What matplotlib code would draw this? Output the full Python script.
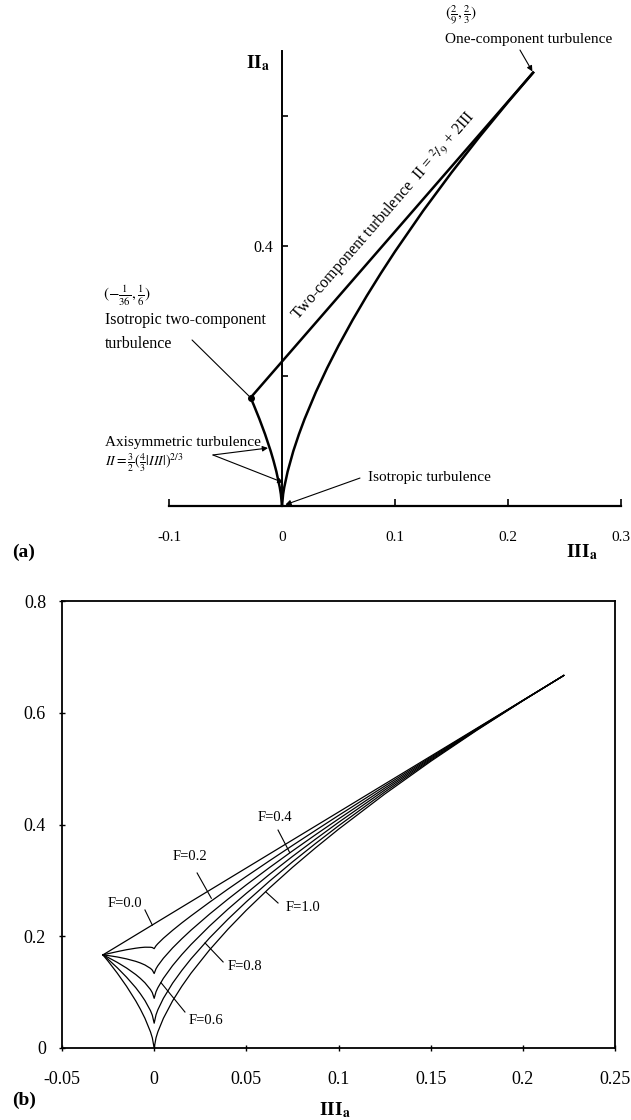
import numpy as np
import matplotlib
matplotlib.use('Agg')
from matplotlib import pyplot as plt

# invariant map points: III_a and II_a for the family of curves F=0.0 ... 1.0
iii_pts = [-0.0278, -0.025, -0.02, -0.015, -0.01, -0.0075, -0.005, -0.002, -0.001, 0.0,
           0.001, 0.002, 0.005, 0.01, 0.015, 0.02, 0.03, 0.04, 0.05, 0.0625,
           0.075, 0.0875, 0.1, 0.125, 0.15, 0.175, 0.2, 0.2222]
ii_f00 = [0.1667, 0.1722, 0.1822, 0.1922, 0.2022, 0.2072, 0.2122, 0.2182, 0.2202, 0.2222,
          0.2242, 0.2262, 0.2322, 0.2422, 0.2522, 0.2622, 0.2822, 0.3022, 0.3222, 0.3472,
          0.3722, 0.3972, 0.4222, 0.4722, 0.5222, 0.5722, 0.6222, 0.6667]
ii_f02 = [0.1667, 0.1688, 0.1725, 0.1759, 0.1786, 0.1797, 0.1804, 0.1803, 0.1798, 0.1778,
          0.1830, 0.1867, 0.1964, 0.2106, 0.2239, 0.2365, 0.2608, 0.2843, 0.3071, 0.3350,
          0.3624, 0.3894, 0.4161, 0.4686, 0.5204, 0.5715, 0.6220, 0.6667]
ii_f04 = [0.1667, 0.1655, 0.1629, 0.1595, 0.1551, 0.1522, 0.1486, 0.1425, 0.1394, 0.1333,
          0.1418, 0.1473, 0.1606, 0.1791, 0.1955, 0.2109, 0.2395, 0.2663, 0.2920, 0.3228,
          0.3526, 0.3816, 0.4099, 0.4650, 0.5185, 0.5707, 0.6219, 0.6667]
ii_f06 = [0.1667, 0.1621, 0.1532, 0.1432, 0.1315, 0.1246, 0.1167, 0.1046, 0.0990, 0.0889,
          0.1006, 0.1078, 0.1247, 0.1475, 0.1672, 0.1852, 0.2181, 0.2484, 0.2768, 0.3106,
          0.3428, 0.3737, 0.4038, 0.4615, 0.5167, 0.5700, 0.6217, 0.6667]
ii_f08 = [0.1667, 0.1588, 0.1436, 0.1268, 0.1080, 0.0971, 0.0849, 0.0668, 0.0586, 0.0444,
          0.0594, 0.0684, 0.0889, 0.1160, 0.1388, 0.1596, 0.1968, 0.2304, 0.2617, 0.2984,
          0.3330, 0.3659, 0.3976, 0.4579, 0.5148, 0.5692, 0.6216, 0.6667]
ii_f10 = [0.1667, 0.1554, 0.1339, 0.1105, 0.0844, 0.0696, 0.0531, 0.0289, 0.0182, 0.0,
          0.0182, 0.0289, 0.0531, 0.0844, 0.1105, 0.1339, 0.1754, 0.2125, 0.2466, 0.2862,
          0.3232, 0.3581, 0.3915, 0.4543, 0.5130, 0.5685, 0.6214, 0.6667]
f_curves = [ii_f00, ii_f02, ii_f04, ii_f06, ii_f08, ii_f10]

a_xticks = [-0.1, 0, 0.1, 0.2, 0.3]
a_xlabels = ['-0.1', '0', '0.1', '0.2', '0.3']
a_yticks = [0.2, 0.4, 0.6]
a_ylabels = ['', '0.4', '']
b_xticks = [-0.05, 0, 0.05, 0.1, 0.15, 0.2, 0.25]
b_xlabels = ['-0.05', '0', '0.05', '0.1', '0.15', '0.2', '0.25']
b_yticks = [0, 0.2, 0.4, 0.6, 0.8]
b_ylabels = ['0', '0.2', '0.4', '0.6', '0.8']

# label text, text centre, leader start, leader end
f_labels = [
    ('F=0.0', (-0.0158, 0.2595), (-0.0050, 0.2470), (-0.0010, 0.2200)),
    ('F=0.2', (0.0195, 0.3420), (0.0233, 0.3132), (0.0310, 0.2680)),
    ('F=0.4', (0.0656, 0.4130), (0.0672, 0.3900), (0.0735, 0.3500)),
    ('F=1.0', (0.0808, 0.2506), (0.0672, 0.2595), (0.0607, 0.2790)),
    ('F=0.8', (0.0493, 0.1450), (0.0374, 0.1540), (0.0276, 0.1880)),
    ('F=0.6', (0.0281, 0.0500), (0.0167, 0.0644), (0.0037, 0.1170)),
]

plt.rcParams['font.family'] = ['Liberation Serif', 'DejaVu Serif']
plt.rcParams['mathtext.fontset'] = 'stix'

W, H = 631, 1120
fig = plt.figure(figsize=(W / 100, H / 100), dpi=100)


def px_axes(left, top, right, bottom):
    return fig.add_axes([left / W, 1 - bottom / H, (right - left) / W, (bottom - top) / H])


# ---------------- panel (a) ----------------
ax = px_axes(169, 51, 621, 506)
ax.set_xlim(-0.1, 0.3)
ax.set_ylim(0, 0.7)
for s in ['top', 'right']:
    ax.spines[s].set_visible(False)
ax.spines['left'].set_position(('data', 0))
ax.spines['left'].set_linewidth(1.4)
ax.spines['bottom'].set_linewidth(1.6)
ax.plot(iii_pts, ii_f00, 'k', lw=1.8, clip_on=False)
ax.plot(iii_pts, ii_f10, 'k', lw=1.8, clip_on=False)
ax.plot(iii_pts[0], ii_f00[0], 'ko', ms=4, clip_on=False)

ax.set_xticks(a_xticks)
ax.set_xticklabels(a_xlabels)
ax.set_yticks(a_yticks)
ax.set_yticklabels(a_ylabels)
ax.tick_params(axis='x', direction='in', length=5, width=1.2, pad=18, labelsize=11)
ax.tick_params(axis='y', direction='in', length=4, width=1.2, pad=6, labelsize=11.5)

fs = 11
ax.text(0.144, 0.754, r'$(\frac{2}{9},\frac{2}{3})$', fontsize=fs, va='center', ha='left')
ax.text(0.144, 0.718, 'One-component turbulence', fontsize=fs, va='center', ha='left')
ax.annotate('', xy=(0.2222, 0.6667), xytext=(0.2106, 0.7015),
            arrowprops=dict(arrowstyle='-|>', lw=0.8, color='k', mutation_scale=8, shrinkA=0, shrinkB=1))

ax.text(-0.1584, 0.323, r'$(-\frac{1}{36},\frac{1}{6})$', fontsize=fs, va='center', ha='left')
ax.text(-0.1566, 0.286, 'Isotropic two-component', fontsize=fs + 0.5, va='center', ha='left')
ax.text(-0.1566, 0.249, 'turbulence', fontsize=fs + 0.5, va='center', ha='left')
ax.annotate('', xy=(-0.0278, 0.1667), xytext=(-0.0796, 0.2554),
            arrowprops=dict(arrowstyle='-', lw=0.8, color='k', shrinkA=0, shrinkB=0))

ax.text(-0.1566, 0.097, 'Axisymmetric turbulence', fontsize=fs, va='center', ha='left')
ax.text(-0.1566, 0.066, r'$II=\frac{3}{2}(\frac{4}{3}|III|)^{2/3}$', fontsize=fs - 1,
        va='center', ha='left')
for tip in [(-0.0124, 0.0892), (0.0012, 0.036)]:
    ax.annotate('', xy=tip, xytext=(-0.0611, 0.0785),
                arrowprops=dict(arrowstyle='-|>', lw=0.8, color='k', mutation_scale=8,
                                shrinkA=0, shrinkB=0))

ax.text(0.0761, 0.0446, 'Isotropic turbulence', fontsize=fs, va='center', ha='left')
ax.annotate('', xy=(0.003, 0.002), xytext=(0.069, 0.043),
            arrowprops=dict(arrowstyle='-|>', lw=0.8, color='k', mutation_scale=8,
                            shrinkA=0, shrinkB=0))

ax.text(0.0142, 0.284, r'Two-component turbulence  II = $^{2}\!/_{9}$ + 2III',
        fontsize=fs + 0.5, ha='left', va='baseline', rotation=np.degrees(np.arctan2(2, 1)),
        rotation_mode='anchor', transform_rotates_text=True)

fig.text(270 / W, 1 - 63 / H, r'II$_{\mathbf{a}}$', fontsize=14, fontweight='bold',
         ha='right', va='center')
fig.text(582 / W, 1 - 552 / H, r'III$_{\mathbf{a}}$', fontsize=14, fontweight='bold',
         ha='center', va='center')
fig.text(12 / W, 1 - 552 / H, '(a)', fontsize=14, fontweight='bold', ha='left', va='center')

# ---------------- panel (b) ----------------
bx = px_axes(62, 601, 615, 1048)
bx.set_xlim(-0.05, 0.25)
bx.set_ylim(0, 0.8)
for s in bx.spines.values():
    s.set_linewidth(1.3)
for ii in f_curves:
    bx.plot(iii_pts, ii, 'k', lw=0.9)
for txt, pos, p0, p1 in f_labels:
    bx.plot([p0[0], p1[0]], [p0[1], p1[1]], 'k', lw=0.8)
    bx.text(pos[0], pos[1], txt, fontsize=10.5, ha='center', va='center')

bx.set_xticks(b_xticks)
bx.set_xticklabels(b_xlabels)
bx.set_yticks(b_yticks)
bx.set_yticklabels(b_ylabels)
bx.tick_params(axis='both', direction='inout', length=5, width=1.0, labelsize=13)
bx.tick_params(axis='x', pad=14)
bx.tick_params(axis='y', pad=9)

fig.text(335 / W, 1 - 1110 / H, r'III$_{\mathbf{a}}$', fontsize=14, fontweight='bold',
         ha='center', va='center')
fig.text(12 / W, 1 - 1100 / H, '(b)', fontsize=14, fontweight='bold', ha='left', va='center')

fig.savefig('out.png', dpi=100)
